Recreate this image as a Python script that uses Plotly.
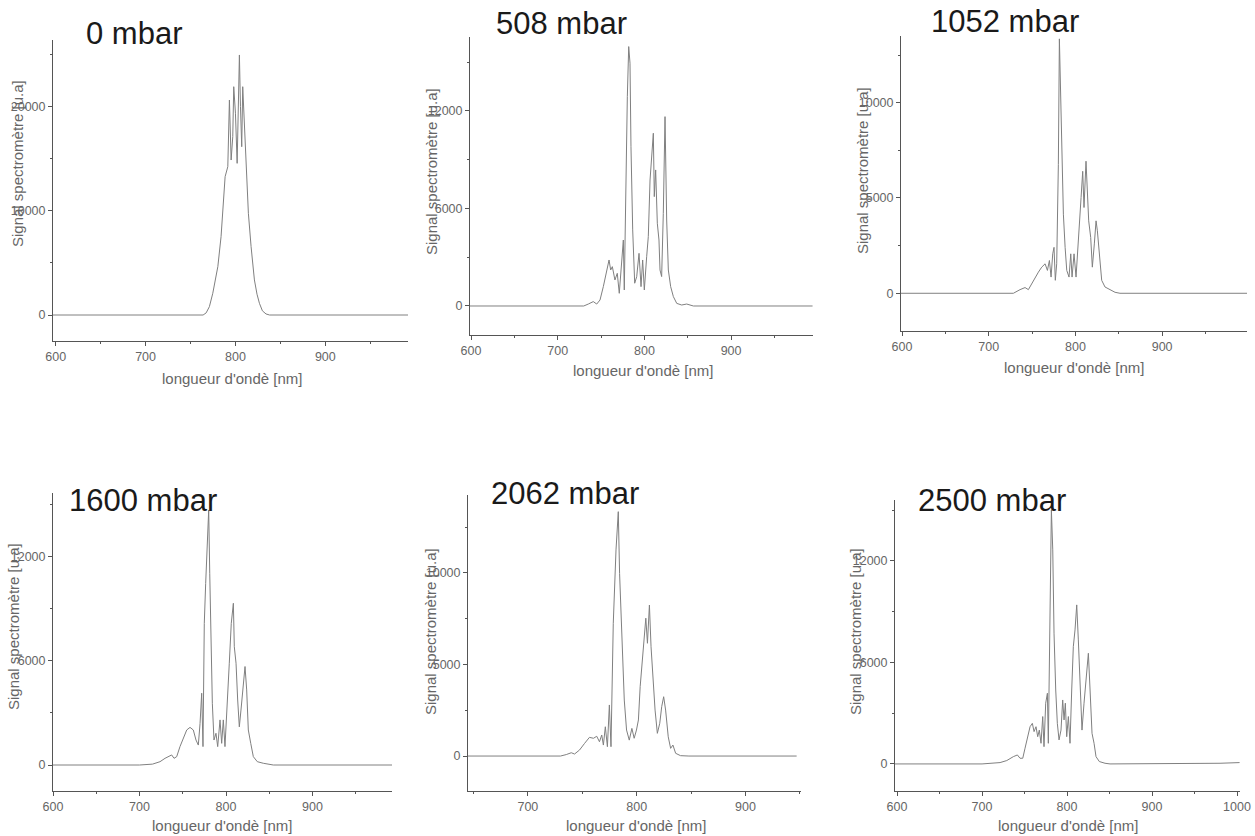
import plotly.graph_objects as go

W, H = 1255, 836

# ---------------- data ----------------
titles = ["0 mbar", "508 mbar", "1052 mbar", "1600 mbar", "2062 mbar", "2500 mbar"]
x_title = "longueur d'ondè [nm]"
y_title = "Signal spectromètre [u.a]"

wl_0 = [597, 700, 764, 767.4, 771, 774.8, 778, 780.4, 784, 786, 788.5, 791.5, 793.3, 795.2, 797,
        798.1, 800, 801.9, 803.7, 804.4, 805.6, 807, 808.1, 810, 811.9, 814.4, 817.4, 821.1, 824,
        826.7, 830, 834, 838, 992]
sig_0 = [0, 0, 0, 200, 800, 2090, 3400, 4650, 7530, 10400, 13300, 14260, 20670, 14900, 17140,
         21950, 19400, 14580, 20350, 25000, 20030, 16180, 21950, 18430, 13620, 9780, 6570, 3370, 2000,
         1120, 400, 100, 0, 0]

wl_508 = [598.8, 700, 730, 735.3, 741, 745, 748.8, 752.6, 756.5, 759.2, 761.1, 763, 766, 768.7, 771,
          773.8, 775.7, 776.8, 778.4, 780.3, 781.9, 783.4, 784.5, 786.5, 788.8, 791.1, 793.8, 796.1,
          798, 799.9, 802.6, 804.5, 806.5, 808.4, 810.3, 811.4, 813, 814.9, 816.8, 818, 819.9, 821.8,
          823.8, 825.7, 827.6, 830.3, 833.4, 837.3, 843, 848.8, 856.5, 994]
sig_508 = [0, 0, 0, 120, 270, 120, 370, 1190, 2215, 2830, 2215, 2420, 1600, 2010, 780,
           2630, 4060, 985, 7750, 12880, 15960, 14940, 9800, 4680, 1400, 1800, 3240, 1190,
           2830, 985, 3030, 4270, 7750, 9600, 10630, 6730, 8370, 5090, 4060, 2215, 1810, 5700,
           11650, 5290, 2215, 1190, 575, 160, 60, 120, 0, 0]

wl_1052 = [598.8, 700, 728.4, 736.1, 741.9, 745.7, 749.6, 753.4, 757.3, 761.1, 765, 767.7, 770, 771.9,
           773.8, 775.3, 776.8, 778.4, 780.3, 781.5, 783.1, 784.6, 786.1, 788.1, 790, 792.6, 794.6,
           796.1, 798.4, 800.7, 802.6, 804.5, 806.5, 808.4, 809.9, 812.2, 813.8, 815.3, 817.6, 819.5,
           821.8, 823.8, 825.3, 827.6, 830.3, 834.1, 839.9, 845.7, 851.4, 998]
sig_1052 = [0, 0, 0, 190, 300, 190, 500, 850, 1110, 1370, 1545, 1200, 1720, 850,
            2070, 2410, 680, 1545, 6750, 13350, 10220, 7620, 4150, 2410, 1200, 850, 2070,
            850, 2070, 850, 2070, 3280, 5020, 6400, 4500, 6930, 5360, 3800, 2930, 1370,
            2590, 3800, 3280, 1900, 680, 330, 190, 50, 0, 0]

wl_1600 = [600, 700, 715, 723.7, 729.5, 733.3, 737.2, 739.9, 743, 746.8, 750.6, 754.6, 758.4, 762.2,
           765.3, 768, 770, 771.9, 773.4, 774.9, 776.5, 778.4, 780, 781.2, 782.7, 784.2, 786.1, 788.4,
           790.4, 793.1, 795, 796.9, 798.8, 801.5, 803.8, 806.1, 808.5, 809.6, 811.6, 813.5, 815.4,
           817.3, 820, 822, 823.9, 825.8, 828.6, 831.6, 836.2, 843.1, 854.7, 992]
sig_1600 = [0, 0, 50, 190, 385, 480, 580, 385, 480, 1060, 1540, 2020, 2170, 2020,
            1440, 1150, 2400, 4140, 1060, 8170, 10480, 12980, 14710, 11060, 6630, 3560, 1440, 1830,
            1060, 2600, 1250, 2600, 1060, 3360, 5870, 8170, 9330, 6820, 5870, 3750, 2200,
            3170, 4710, 5680, 4330, 2020, 1250, 480, 190, 100, 0, 0]

wl_2062 = [645, 700, 730, 735.3, 739.9, 742.9, 747.5, 752.1, 756.6, 760.3, 763.3, 765.8, 767.9, 769.4,
           771.2, 773.1, 774.9, 776.4, 778.5, 781, 783.1, 784.3, 785.5, 787, 788.6, 790.7, 793.2,
           795.6, 797.7, 799.8, 801.6, 803.2, 805.3, 806.8, 808.4, 809.9, 811.7, 813.2, 815.1, 816.9,
           819, 821.2, 823, 824.8, 826.6, 829, 831.2, 833.3, 835.8, 840.3, 848, 947]
sig_2062 = [0, 0, 0, 80, 180, 110, 330, 690, 1020, 970, 1080, 780, 1150, 600,
            1600, 510, 2790, 510, 7250, 11260, 13350, 9980, 8160, 5070, 3060, 1420, 870,
            1510, 970, 1420, 1970, 3790, 5430, 6710, 7530, 6160, 8250, 5970, 3790, 2510,
            1240, 1790, 2700, 3240, 2510, 1050, 420, 600, 150, 20, 0, 0]

wl_2500 = [597.6, 700, 721.2, 729.1, 736.8, 741.6, 744.7, 747.9, 750.6, 753.3, 756.5, 759.2, 761.2,
           763.5, 765.5, 767.4, 769.4, 771.4, 772.9, 774.9, 776.9, 778, 780, 781.6, 783.2, 784.7,
           786.7, 788.6, 790.6, 792.9, 794.9, 796.5, 798, 799.6, 801.6, 803.5, 805.5, 807.4, 809.4,
           811.4, 813.3, 815.3, 817.6, 820, 822.4, 825.1, 827.1, 829.4, 831.8, 834.1, 838, 844.7,
           850.6, 950, 980, 1003]
sig_2500 = [0, 0, 80, 200, 430, 530, 335, 335, 930, 1610, 2200, 2400, 1910,
            2200, 1610, 2000, 1220, 2800, 1020, 3590, 4180, 1220, 10290, 15010, 12650, 7730,
            4370, 2400, 1420, 2000, 3780, 2600, 3590, 1610, 2800, 1220, 4370, 6930, 7920,
            9400, 7330, 4770, 2000, 3590, 5160, 6540, 4370, 1810, 1220, 430, 140, 40,
            0, 0, 40, 80]

series_x = [wl_0, wl_508, wl_1052, wl_1600, wl_2062, wl_2500]
series_y = [sig_0, sig_508, sig_1052, sig_1600, sig_2062, sig_2500]

x_ranges = [[597, 992], [598.8, 994.5], [598.8, 997.9], [600, 991.9], [645, 951], [597.6, 1003.5]]
y_ranges = [[-2500, 26440], [-1785, 16550], [-1980, 13500], [-1500, 15690], [-1910, 14260], [-1600, 15600]]
y_dticks = [10000, 6000, 5000, 6000, 5000, 6000]

# ---------------- layout geometry (pixels) ----------------
boxes = [  # left, right, top, bottom
    (53, 408, 40, 341),
    (470, 813, 37, 335),
    (901, 1247, 36, 331),
    (53, 392, 493, 791),
    (468, 801, 495, 791),
    (895, 1240, 500, 791),
]
title_pos = [(84, 33), (494, 23), (929, 21), (67, 500), (489, 493), (916, 500)]
ytitle_pos = [(17, 164), (432, 172), (862, 171), (13, 627), (430, 631), (855, 631)]
xtitle_pos = [(232, 378), (643, 371), (1074, 367), (222, 825), (636, 825), (1068, 825)]

FONT = "Liberation Sans, Arial, sans-serif"
AX = "#555555"

fig = go.Figure()
layout = dict(template="none", width=W, height=H, autosize=False,
              margin=dict(l=0, r=0, t=0, b=0, pad=0, autoexpand=False),
              paper_bgcolor="white", plot_bgcolor="white", showlegend=False,
              font=dict(family=FONT))
annotations = []

for i in range(6):
    n = "" if i == 0 else str(i + 1)
    fig.add_trace(go.Scatter(x=series_x[i], y=series_y[i], mode="lines",
                             line=dict(color="#808080", width=1),
                             xaxis="x" + n, yaxis="y" + n, hoverinfo="skip"))
    l, r, t, b = boxes[i]
    common = dict(showline=True, linecolor=AX, linewidth=1, ticks="outside", ticklen=4,
                  tickcolor=AX, tickwidth=1, showgrid=False, zeroline=False, automargin=False,
                  tickfont=dict(size=12.5, color="#666666", family=FONT),
                  exponentformat="none", separatethousands=False, tickformat="d")
    layout["xaxis" + n] = dict(common, domain=[l / W, r / W], range=x_ranges[i],
                               anchor="y" + n, dtick=100, tick0=0,
                               minor=dict(ticks="outside", ticklen=2, tickcolor=AX, dtick=50, tick0=0))
    layout["yaxis" + n] = dict(common, domain=[1 - b / H, 1 - t / H], range=y_ranges[i],
                               anchor="x" + n, dtick=y_dticks[i], tick0=0,
                               minor=dict(ticks="outside", ticklen=2, tickcolor=AX,
                                          dtick=y_dticks[i] / 2, tick0=0))
    tx, ty = title_pos[i]
    annotations.append(dict(text=titles[i], xref="paper", yref="paper", x=tx / W, y=1 - ty / H,
                            xanchor="left", yanchor="middle", showarrow=False,
                            font=dict(size=31, color="#1a1a1a", family=FONT)))
    yx, yy = ytitle_pos[i]
    annotations.append(dict(text=y_title, xref="paper", yref="paper", x=yx / W, y=1 - yy / H,
                            xanchor="center", yanchor="middle", showarrow=False, textangle=-90,
                            font=dict(size=15, color="#666666", family=FONT)))
    xx, xy = xtitle_pos[i]
    annotations.append(dict(text=x_title, xref="paper", yref="paper", x=xx / W, y=1 - xy / H,
                            xanchor="center", yanchor="middle", showarrow=False,
                            font=dict(size=15, color="#666666", family=FONT)))

layout["annotations"] = annotations
fig.update_layout(**layout)
fig.write_html("out.html",
               config={"responsive": False, "displayModeBar": False},
               post_script="document.body.style.margin='0';document.body.style.overflow='hidden';")
